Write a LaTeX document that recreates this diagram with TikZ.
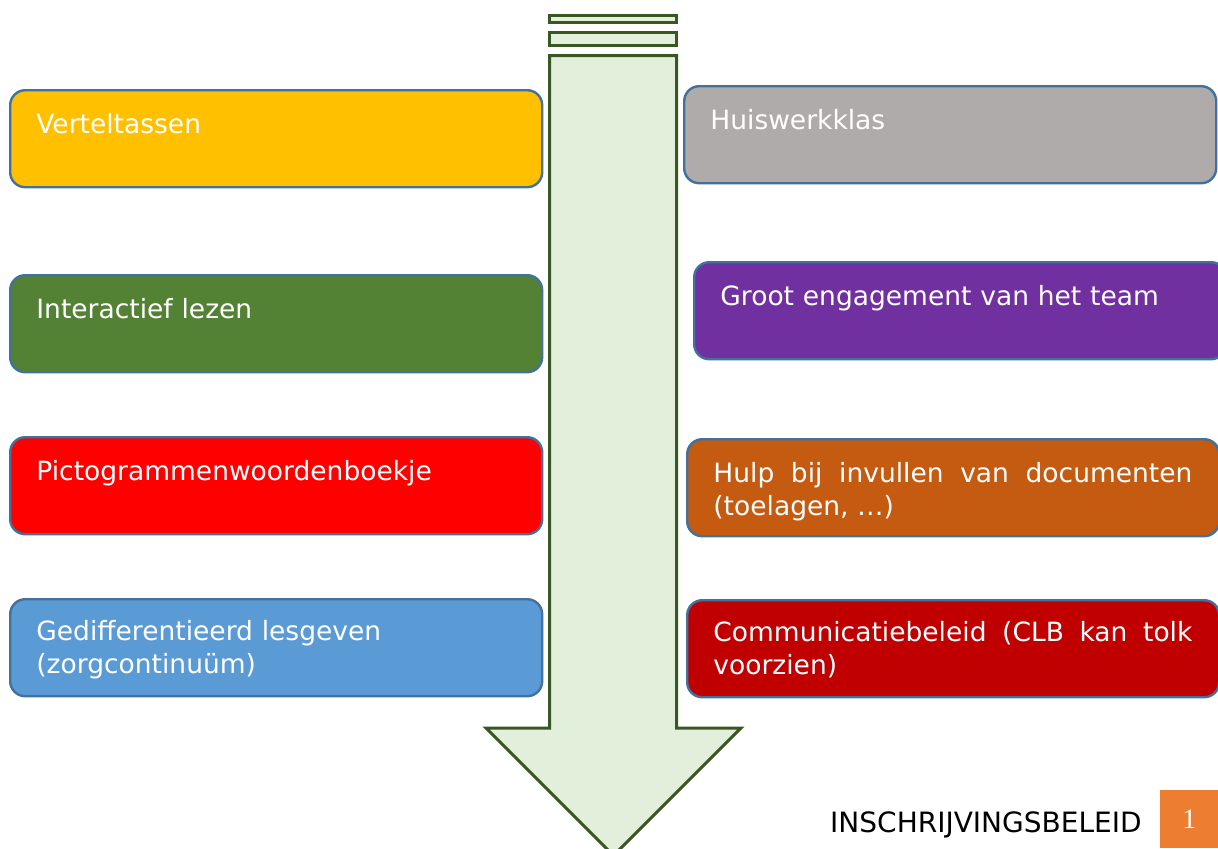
\documentclass[tikz,border=0pt]{standalone}
\usepackage{fontspec}
\setmainfont{DejaVu Sans}
\newfontfamily\pagefont{Liberation Serif}
\usetikzlibrary{positioning,calc}
\definecolor{pillborder}{RGB}{65,113,156}
\definecolor{arrowline}{RGB}{56,87,35}
\definecolor{arrowfill}{RGB}{226,239,218}
\definecolor{tassenyellow}{RGB}{255,192,0}
\definecolor{lezengreen}{RGB}{84,130,53}
\definecolor{pictored}{RGB}{255,0,0}
\definecolor{gedifblue}{RGB}{91,155,213}
\definecolor{huiswerkgray}{RGB}{175,171,171}
\definecolor{teampurple}{RGB}{112,48,160}
\definecolor{hulporange}{RGB}{197,90,17}
\definecolor{commred}{RGB}{192,0,0}
\definecolor{pageorange}{RGB}{237,125,49}

\tikzset{
  pill/.style={draw=pillborder, line width=1.2pt, rounded corners=7.5pt,
    minimum width=266pt, minimum height=48.5pt, inner sep=0pt, anchor=north west},
  pilltext/.style={anchor=north west, inner sep=0pt, text=white, text width=239.5pt,
    font=\fontsize{13.25}{16.5}\selectfont},
  arrowpart/.style={draw=arrowline, fill=arrowfill, line width=1.5pt}
}

\begin{document}
\begin{tikzpicture}[x=0.5pt,y=-0.5pt]
    \useasboundingbox (0,0) rectangle (1218,848);
    \clip (0,0) rectangle (1218,848);

    % Big arrow in the middle
    \draw[arrowpart] (549.5,15.5) rectangle (676.5,22.5);
    \draw[arrowpart] (549.5,32.5) rectangle (676.5,45.5);
    \draw[arrowpart] (549.5,55.5) -- (676.5,55.5) -- (676.5,728) -- (741,728)
        -- (613.5,855.5) -- (486,728) -- (549.5,728) -- cycle;

    % Left column
    \node[pill, fill=tassenyellow] (tassen) at (9,89) {};
    \node[pilltext, align=left] (tassen-text) at ([shift={(27,24)}]tassen.north west) {Verteltassen};
    \node[pill, fill=lezengreen] (lezen) at (9,274) {};
    \node[pilltext, align=left] (lezen-text) at ([shift={(27,24)}]lezen.north west) {Interactief lezen};
    \node[pill, fill=pictored] (picto) at (9,436) {};
    \node[pilltext, align=left] (picto-text) at ([shift={(27,24)}]picto.north west) {Pictogrammenwoordenboekje};
    \node[pill, fill=gedifblue] (gedif) at (9,598) {};
    \node[pilltext, align=left] (gedif-text) at ([shift={(27,22)}]gedif.north west) {Gedifferentieerd lesgeven\\(zorgcontinuüm)};

    % Right column
    \node[pill, fill=huiswerkgray] (huiswerk) at (683,85) {};
    \node[pilltext, align=left] (huiswerk-text) at ([shift={(27,24)}]huiswerk.north west) {Huiswerkklas};
    \node[pill, fill=teampurple] (team) at (693,261) {};
    \node[pilltext, align=left] (team-text) at ([shift={(27,24)}]team.north west) {Groot engagement van het team};
    \node[pill, fill=hulporange] (hulp) at (686,438) {};
    \node[pilltext, align=justify] (hulp-text) at ([shift={(27,24)}]hulp.north west) {Hulp bij invullen van documenten\linebreak (toelagen, …)};
    \node[pill, fill=commred] (comm) at (686,599) {};
    \node[pilltext, align=justify] (comm-text) at ([shift={(27,22)}]comm.north west) {Communicatiebeleid (CLB kan tolk\linebreak voorzien)};

    % Footer
    \node[anchor=base east, inner sep=0pt, font=\fontsize{14}{14}\selectfont] (footer) at (1142,832) {INSCHRIJVINGSBELEID};
    \node[anchor=north west, fill=pageorange, minimum size=29pt, inner sep=0pt, text=white,
        font=\pagefont\fontsize{14}{14}\selectfont] (pagenr) at (1160,790) {1};
\end{tikzpicture}
\end{document}
